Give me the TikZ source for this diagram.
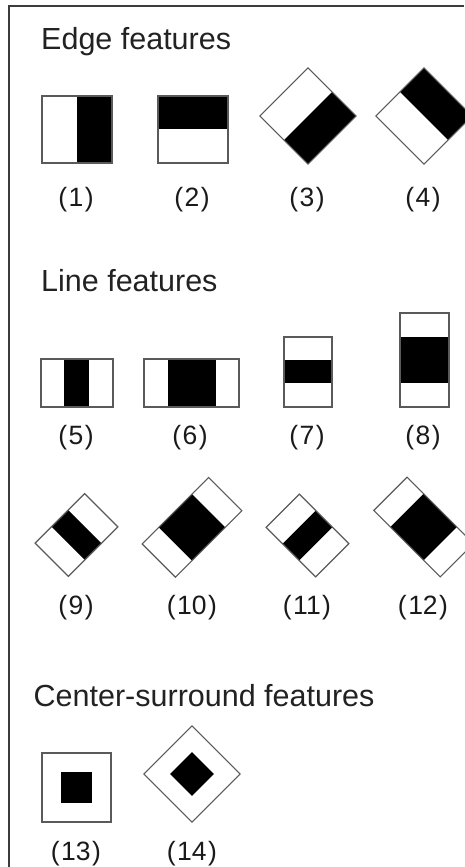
\documentclass[tikz,border=0pt]{standalone}
\usepackage{fontspec}
\setmainfont{Liberation Sans}
\definecolor{framec}{HTML}{3C3C3C}
\definecolor{edgec}{HTML}{5A5A5A}
\definecolor{titlec}{HTML}{222222}
\definecolor{lblc}{HTML}{1A1A1A}
\newcommand\tk{\kern1.5pt}
\begin{document}
\begin{tikzpicture}[x=1pt,y=-1pt,
  box/.style={fill=white},
  blk/.style={fill=black},
  outl/.style={draw=edgec,line width=1.1pt,line join=miter},
  ttl/.style={anchor=base west,inner sep=0pt,text=titlec,font=\fontsize{30.5}{36}\selectfont},
  lbl/.style={inner sep=0pt,text=lblc,font=\fontsize{26.5}{32}\selectfont}]
\useasboundingbox[fill=white] (0,0) rectangle (464,867);
% frame
\draw[framec,line width=1.5pt] (9,867) -- (9,6) -- (464,6);
% titles
\node[ttl] (t1) at (41,49.5) {Edge features};
\node[ttl] (t2) at (41,291.7) {Line features};
\node[ttl] (t3) at (33.5,706.7) {Center-surround features};
% (1)
\fill[box] (42,96) rectangle (112,163);
\fill[blk] (77,96) rectangle (112,163);
\draw[outl] (42,96) rectangle (112,163);
% (2)
\fill[box] (158,96) rectangle (228,163);
\fill[blk] (158,96) rectangle (228,129);
\draw[outl] (158,96) rectangle (228,163);
% (3)
\begin{scope}[shift={(308,116)},rotate=45]
\fill[box] (-34,-34) rectangle (34,34);
\fill[blk] (-34,0) rectangle (34,34);
\draw[outl] (-34,-34) rectangle (34,34);
\end{scope}
% (4)
\begin{scope}[shift={(424,116)},rotate=45]
\fill[box] (-34,-34) rectangle (34,34);
\fill[blk] (0,-34) rectangle (34,34);
\draw[outl] (-34,-34) rectangle (34,34);
\end{scope}
% (5)
\fill[box] (41,359) rectangle (113,407);
\fill[blk] (64,359) rectangle (89,407);
\draw[outl] (41,359) rectangle (113,407);
% (6)
\fill[box] (144,359) rectangle (239,407);
\fill[blk] (168,359) rectangle (216,407);
\draw[outl] (144,359) rectangle (239,407);
% (7)
\fill[box] (284,337) rectangle (332,407);
\fill[blk] (284,360) rectangle (332,383);
\draw[outl] (284,337) rectangle (332,407);
% (8)
\fill[box] (400,313) rectangle (449,407);
\fill[blk] (400,337) rectangle (449,383);
\draw[outl] (400,313) rectangle (449,407);
% (9)
\begin{scope}[shift={(76.5,535)},rotate=45]
\fill[box] (-35,-23.5) rectangle (35,23.5);
\fill[blk] (-11.7,-23.5) rectangle (11.7,23.5);
\draw[outl] (-35,-23.5) rectangle (35,23.5);
\end{scope}
% (10)
\begin{scope}[shift={(192,527.3)},rotate=45]
\fill[box] (-47,-23.5) rectangle (47,23.5);
\fill[blk] (-23.5,-23.5) rectangle (23.5,23.5);
\draw[outl] (-47,-23.5) rectangle (47,23.5);
\end{scope}
% (11)
\begin{scope}[shift={(307.5,535.5)},rotate=-45]
\fill[box] (-35,-23.5) rectangle (35,23.5);
\fill[blk] (-11.7,-23.5) rectangle (11.7,23.5);
\draw[outl] (-35,-23.5) rectangle (35,23.5);
\end{scope}
% (12)
\begin{scope}[shift={(423.7,527)},rotate=-45]
\fill[box] (-47,-23.5) rectangle (47,23.5);
\fill[blk] (-23.5,-23.5) rectangle (23.5,23.5);
\draw[outl] (-47,-23.5) rectangle (47,23.5);
\end{scope}
% (13)
\fill[box] (42,753) rectangle (111,822);
\fill[blk] (61,772) rectangle (92,803);
\draw[outl] (42,753) rectangle (111,822);
% (14)
\begin{scope}[shift={(192,774)},rotate=45]
\fill[box] (-34,-34) rectangle (34,34);
\fill[blk] (-15.5,-15.5) rectangle (15.5,15.5);
\draw[outl] (-34,-34) rectangle (34,34);
\end{scope}
% labels
\node[lbl] (l1) at (76,199.5) {(\tk1\tk)};
\node[lbl] (l2) at (192,199.5) {(\tk2\tk)};
\node[lbl] (l3) at (307,199.5) {(\tk3\tk)};
\node[lbl] (l4) at (423,199.5) {(\tk4\tk)};
\node[lbl] (l5) at (76,437.5) {(\tk5\tk)};
\node[lbl] (l6) at (190,437.5) {(\tk6\tk)};
\node[lbl] (l7) at (307,437.5) {(\tk7\tk)};
\node[lbl] (l8) at (423,437.5) {(\tk8\tk)};
\node[lbl] (l9) at (76,607.5) {(\tk9\tk)};
\node[lbl] (l10) at (192,607.5) {(\tk10\tk)};
\node[lbl] (l11) at (307,607.5) {(\tk11\tk)};
\node[lbl] (l12) at (423,607.5) {(\tk12\tk)};
\node[lbl] (l13) at (76,854) {(\tk13\tk)};
\node[lbl] (l14) at (192,854) {(\tk14\tk)};
\end{tikzpicture}
\end{document}
